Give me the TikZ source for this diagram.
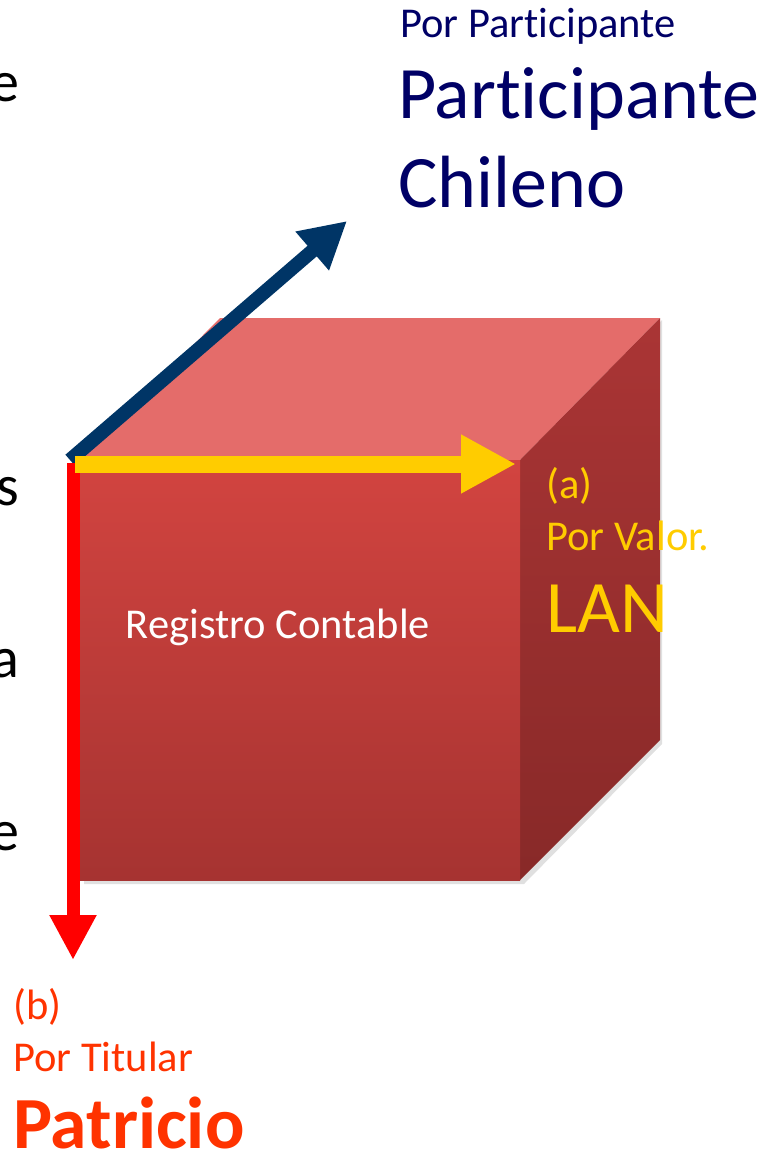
\documentclass[tikz,border=0pt]{standalone}
\usepackage{fontspec}
\setmainfont[Ligatures=NoCommon]{Carlito}
\usetikzlibrary{arrows.meta}
\definecolor{navytext}{RGB}{0,0,102}
\definecolor{axisblue}{RGB}{0,53,102}
\definecolor{axisyellow}{RGB}{255,204,0}
\definecolor{axisred}{RGB}{255,0,0}
\definecolor{titular}{RGB}{255,51,0}
\definecolor{topface}{RGB}{228,108,106}
\definecolor{fronttop}{RGB}{210,68,64}
\definecolor{frontbot}{RGB}{166,51,49}
\definecolor{sidetop}{RGB}{170,53,53}
\definecolor{sidebot}{RGB}{136,41,40}
\begin{document}
\begin{tikzpicture}[x=1pt,y=-1pt]
    \useasboundingbox (0,0) rectangle (776,1153);
    % cube
    \fill[black!12] (84,884) -- (524,884) -- (662,744) -- (662,320) -- (524,462) -- (84,462) -- cycle;
    \fill[topface] (80,460) -- (220,318) -- (660,318) -- (520,460) -- cycle;
    \shade[top color=sidetop, bottom color=sidebot] (520,460) -- (660,318) -- (660,740) -- (520,880) -- cycle;
    \shade[top color=fronttop, bottom color=frontbot] (80,460) rectangle (520,880);
    \coordinate (O) at (70,460);
    \coordinate (P) at (347,221);
    \coordinate (V) at (516,464);
    \coordinate (T) at (73,960);
    % axes
    \draw[axisblue, line width=14pt, -{Triangle[length=46pt, width=48pt]}] (O) -- (P);
    \draw[axisred, line width=13pt, -{Triangle[length=45pt, width=44pt]}] (73,463) -- (T);
    \draw[axisyellow, line width=17pt, -{Triangle[length=55pt, width=55pt]}] (75,464) -- (V);
    % labels
    \node[white, anchor=base, font=\fontsize{42.5}{51}\selectfont] (reg) at (278,638) {Registro Contable};
    \node[navytext, anchor=base west, inner sep=0pt, font=\fontsize{42.5}{51}\selectfont] (porpart) at (400,38) {Por Participante};
    \node[navytext, anchor=base west, inner sep=0pt, font=\fontsize{74}{89}\selectfont] (part) at (398,118) {Participante};
    \node[navytext, anchor=base west, inner sep=0pt, font=\fontsize{74}{89}\selectfont] (chil) at (398,207) {Chileno};
    \node[axisyellow, anchor=base west, inner sep=0pt, font=\fontsize{42.5}{51}\selectfont] (a) at (546,498) {(a)};
    \node[axisyellow, anchor=base west, inner sep=0pt, font=\fontsize{42.5}{51}\selectfont] (porval) at (546,550) {Por Valor.};
    \node[axisyellow, anchor=base west, inner sep=0pt, font=\fontsize{74}{89}\selectfont] (lan) at (546,632) {LAN};
    \node[titular, anchor=base west, inner sep=0pt, font=\fontsize{42.5}{51}\selectfont] (b) at (13,1019) {(b)};
    \node[titular, anchor=base west, inner sep=0pt, font=\fontsize{42.5}{51}\selectfont] (portit) at (13,1071) {Por Titular};
    \node[titular, anchor=base west, inner sep=0pt, font=\fontsize{73.5}{88}\selectfont\bfseries] (patricio) at (13,1148) {Patricio};
    % cut text at the left edge
    \node[anchor=base east, inner sep=0pt, font=\fontsize{58}{70}\selectfont] (ltop) at (20,102) {e};
    \node[anchor=base east, inner sep=0pt, font=\fontsize{58}{70}\selectfont] (ls) at (19,505) {s};
    \node[anchor=base east, inner sep=0pt, font=\fontsize{58}{70}\selectfont] (la) at (19,677) {a};
    \node[anchor=base east, inner sep=0pt, font=\fontsize{58}{70}\selectfont] (lbot) at (20,850) {e};
\end{tikzpicture}
\end{document}
